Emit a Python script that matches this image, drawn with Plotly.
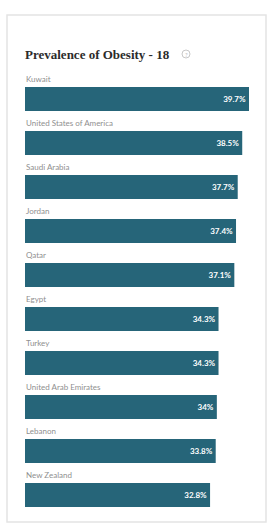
import plotly.graph_objects as go

countries = ["Kuwait", "United States of America", "Saudi Arabia", "Jordan", "Qatar",
             "Egypt", "Turkey", "United Arab Emirates", "Lebanon", "New Zealand"]
values = [39.7, 38.5, 37.7, 37.4, 37.1, 34.3, 34.3, 34.0, 33.8, 32.8]
value_labels = ["39.7%", "38.5%", "37.7%", "37.4%", "37.1%", "34.3%", "34.3%", "34%", "33.8%", "32.8%"]
title_text = "Prevalence of Obesity - 18"

W, H = 278, 526
L, R, T, B = 25, 23, 77, 4
pw, ph = W - L - R, H - T - B

def px(x):
    return (x - L) / pw

def py(y):
    return (H - B - y) / ph

BAR = "#266579"

fig = go.Figure(go.Bar(
    x=values, y=countries, orientation="h",
    marker=dict(color=BAR, line=dict(width=0)),
    width=0.54,
    text=["<b>" + t + "</b>" for t in value_labels],
    textposition="inside", insidetextanchor="end",
    textfont=dict(color="white", size=8, family="Lato"),
    cliponaxis=False, hoverinfo="skip",
))

annotations = []
for c in countries:
    annotations.append(dict(
        x=0, y=c, xref="x", yref="y", text=c, showarrow=False,
        xanchor="left", yanchor="middle", yshift=20, xshift=-1,
        font=dict(size=8, color="#8f8f8f", family="Lato"),
    ))
annotations.append(dict(
    x=px(23), y=py(55), xref="paper", yref="paper", text="<b>" + title_text + "</b>",
    showarrow=False, xanchor="left", yanchor="middle",
    font=dict(size=13, color="#2b2b2b", family="Liberation Serif"),
))
annotations.append(dict(
    x=px(186), y=py(54), xref="paper", yref="paper", text="?",
    showarrow=False, xanchor="center", yanchor="middle",
    font=dict(size=6, color="#bbbbbb", family="Lato"),
))

shapes = [
    dict(type="rect", xref="paper", yref="paper",
         x0=px(7), x1=px(266), y0=py(15), y1=py(522),
         line=dict(color="#e4e4e4", width=1.5), fillcolor="rgba(0,0,0,0)", layer="below"),
    dict(type="circle", xref="paper", yref="paper",
         x0=px(182), x1=px(190), y0=py(58), y1=py(50),
         line=dict(color="#c8c8c8", width=1)),
]

fig.update_layout(
    width=W, height=H,
    margin=dict(l=L, r=R, t=T, b=B, pad=0),
    paper_bgcolor="white", plot_bgcolor="white",
    showlegend=False,
    bargap=0.46,
    xaxis=dict(range=[0, 39.7 * pw / 224], visible=False, fixedrange=True),
    yaxis=dict(categoryorder="array", categoryarray=countries, autorange="reversed",
               visible=False, fixedrange=True),
    annotations=annotations,
    shapes=shapes,
    uniformtext=dict(minsize=6, mode="show"),
)

fig.write_html("out.html", config={"displayModeBar": False},
               post_script="document.body.style.margin='0';document.body.style.overflow='hidden';")
